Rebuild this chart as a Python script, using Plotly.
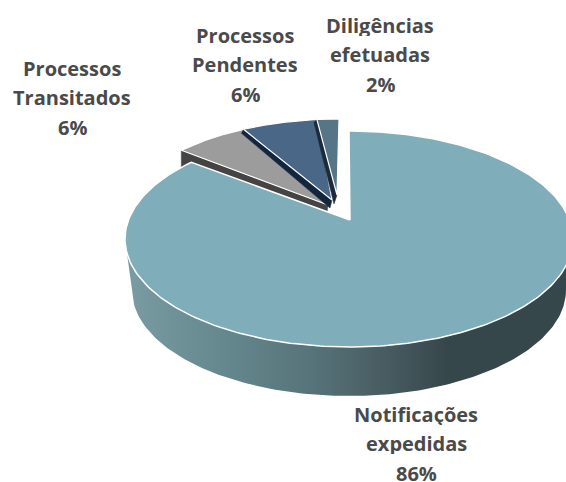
import numpy as np
import plotly.graph_objects as go

# estimated shares, clockwise from 12 o'clock
labels = [["Notificações", "expedidas"], ["Processos", "Transitados"], ["Processos", "Pendentes"], ["Diligências", "efetuadas"]]
values = [86.2, 5.6, 6.3, 1.9]
top_colors = ["#7FADBA", "#9C9C9C", "#4A6787", "#567586"]
side_colors = ["#5B7A80", "#444444", "#14263E", "#1A2B3D"]

# drawing setup, all in page pixels
W, H = 566, 482
RX, RY = 224, 108
MAIN_C = (349, 239)
SMALL_C = (339, 227)
MAIN_APEX = (350, 220)
WALL_C = (349, 290)
WALL_RX, WALL_RY = 217, 106
APEX = [None, (328, 205), (332, 200), (337, 195)]
# offset of the cut face at the rim and at the apex
CUT = [None, ((0, 17), (-1, 8)), ((-2, 4), (-2, 8)), ((-3, 3), (-3, 9))]
LABEL_POS = [(416, 414), (72, 68), (245, 35), (380, 25)]
LINE_GAP = 29.3


def rim(center, a0, a1, n=120):
    # rim points of a slice, the warp stands in for the perspective of the 3d view
    th = np.radians(np.linspace(a0, a1, n))
    t = th - np.radians(5) * np.sin(2 * th)
    return center[0] + RX * np.sin(t), center[1] - RY * np.cos(t)


def poly(x, y, fill, line="white", width=1.5, **kw):
    return go.Scatter(x=list(x), y=list(y), mode="lines", fill="toself", fillcolor=fill,
                      line=dict(color=line, width=width), hoverinfo="skip", showlegend=False, **kw)


fig = go.Figure()

# small slices first, the big one sits in front of them
edges = np.cumsum([0] + values) * 3.6
pct = [round(v) for v in values]
for i in range(1, 4):
    rx, ry = rim(SMALL_C, edges[i], edges[i + 1])
    ax, ay = APEX[i]
    (d0x, d0y), (d1x, d1y) = CUT[i]
    fig.add_trace(poly([rx[0], ax, ax + d1x, rx[0] + d0x, rx[0]],
                       [ry[0], ay, ay + d1y, ry[0] + d0y, ry[0]],
                       side_colors[i], line=side_colors[i], width=0.5))
    fig.add_trace(poly([ax, *rx, ax], [ay, *ry, ay], top_colors[i], width=1.2))

# side wall of the big slice
tx, ty = rim(MAIN_C, 90, 270)
a = np.radians(np.linspace(90, 270, 160))
wx = WALL_C[0] + WALL_RX * np.sin(a)
wy = WALL_C[1] - WALL_RY * np.cos(a)
wall = go.Scatter(
    x=[*tx, *wx[::-1]], y=[*ty, *wy[::-1]], mode="lines", fill="toself",
    line=dict(width=0, color="rgba(0,0,0,0)"), hoverinfo="skip", showlegend=False,
    fillgradient=dict(type="horizontal", colorscale=[
        [0, "#7A9CA3"], [0.2, "#668A90"], [0.42, "#567379"], [0.6, "#46595E"],
        [0.72, "#36474B"], [1, "#36474B"]]),
)
fig.add_trace(wall)

# top of the big slice
mx, my = rim(MAIN_C, edges[0], edges[1], n=300)
fig.add_trace(poly([MAIN_APEX[0], *mx, MAIN_APEX[0]], [MAIN_APEX[1], *my, MAIN_APEX[1]], top_colors[0]))

annotations = []
for lines, p, (lx, ly) in zip(labels, pct, LABEL_POS):
    for k, txt in enumerate([*lines, f"{p}%"]):
        annotations.append(dict(x=lx, y=ly + k * LINE_GAP, text=txt, showarrow=False,
                                xanchor="center", yanchor="middle", height=22, borderpad=0,
                                font=dict(family="Open Sans", size=20, color="#4A4A4A", weight="bold")))

fig.update_layout(
    width=W, height=H,
    margin=dict(l=0, r=0, t=0, b=0),
    paper_bgcolor="white", plot_bgcolor="white",
    showlegend=False,
    xaxis=dict(range=[0, W], visible=False, fixedrange=True),
    yaxis=dict(range=[H, 0], visible=False, fixedrange=True),
    annotations=annotations,
)

# drop the browser's default page margin so the figure fills the window
fig.write_html("out.html", config=dict(displayModeBar=False),
               post_script="document.body.style.margin='0';document.body.style.overflow='hidden';")
